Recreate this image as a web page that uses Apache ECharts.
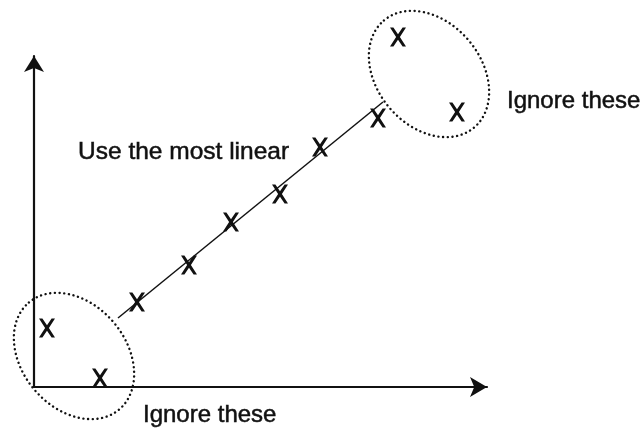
<!DOCTYPE html>
<html>
<head>
<meta charset="utf-8">
<script src="https://cdn.jsdelivr.net/npm/echarts@6/dist/echarts.min.js"></script>
<style>
  html, body { margin: 0; padding: 0; background: #fff; }
  #main { width: 643px; height: 432px; }
</style>
</head>
<body>
<div id="main"></div>
<script>
  var outlierLow = [[13, 59], [66, 9]];
  var linearPts = [[103, 85], [155, 122], [197, 165], [246, 193], [286, 240], [344, 269]];
  var outlierHigh = [[364, 350], [423, 275]];
  var fitLine = [[84, 69], [349, 285]];

  // centre of each dotted ring, same units as the points
  var ringCentres = [[40, 31], [395, 313]];

  var ink = '#111';
  var font = '"Liberation Sans", Arial, sans-serif';
  // letter X as a filled outline
  var crossPath = 'path://M0,0L3.4,0L8,6.8L12.6,0L16,0L9.9,9.5L16,19L12.6,19L8,12.2L3.4,19L0,19L6.1,9.5Z';

  var chart = echarts.init(document.getElementById('main'));

  function crossSeries(name, data) {
    return {
      name: name,
      type: 'scatter',
      data: data,
      symbol: crossPath,
      symbolSize: [16, 19],
      clip: false,
      silent: true,
      itemStyle: { color: ink, opacity: 1 }
    };
  }

  var option = {
    backgroundColor: '#fff',
    animation: false,
    grid: { left: 34, right: 156, top: 56, bottom: 45 },
    xAxis: {
      type: 'value',
      min: 0,
      max: 453,
      axisLine: {
        show: true,
        symbol: ['none', 'arrow'],
        symbolSize: [15, 17],
        lineStyle: { color: ink, width: 2.2 }
      },
      axisTick: { show: false },
      axisLabel: { show: false },
      splitLine: { show: false }
    },
    yAxis: {
      type: 'value',
      min: 0,
      max: 331,
      axisLine: {
        show: true,
        symbol: ['none', 'arrow'],
        symbolSize: [15, 16],
        lineStyle: { color: ink, width: 2.2 }
      },
      axisTick: { show: false },
      axisLabel: { show: false },
      splitLine: { show: false }
    },
    series: [
      {
        name: 'fit',
        type: 'line',
        data: fitLine,
        symbol: 'none',
        silent: true,
        lineStyle: { color: ink, width: 1.5 }
      },
      crossSeries('ignored low', outlierLow),
      crossSeries('linear', linearPts),
      crossSeries('ignored high', outlierHigh)
    ]
  };
  chart.setOption(option);

  // dotted rings and the notes
  var rings = ringCentres.map(function (c) {
    var p = chart.convertToPixel({ gridIndex: 0 }, c);
    return {
      type: 'ellipse',
      x: p[0],
      y: p[1],
      rotation: -0.87,
      shape: { cx: 0, cy: 0, rx: 70, ry: 52 },
      style: { fill: 'none', stroke: ink, lineWidth: 2.4, lineDash: [0.1, 4.6], lineCap: 'round' },
      silent: true
    };
  });

  function note(text, x, y, size) {
    return {
      type: 'text',
      x: x,
      y: y,
      silent: true,
      style: {
        text: text, fill: ink, font: size + 'px ' + font, verticalAlign: 'middle',
        stroke: ink, lineWidth: 0.5
      }
    };
  }

  chart.setOption({
    graphic: rings.concat([
      note('Use the most linear', 78, 152, 24.5),
      note('Ignore these', 507, 101, 24),
      note('Ignore these', 143, 415, 24)
    ])
  });
</script>
</body>
</html>
